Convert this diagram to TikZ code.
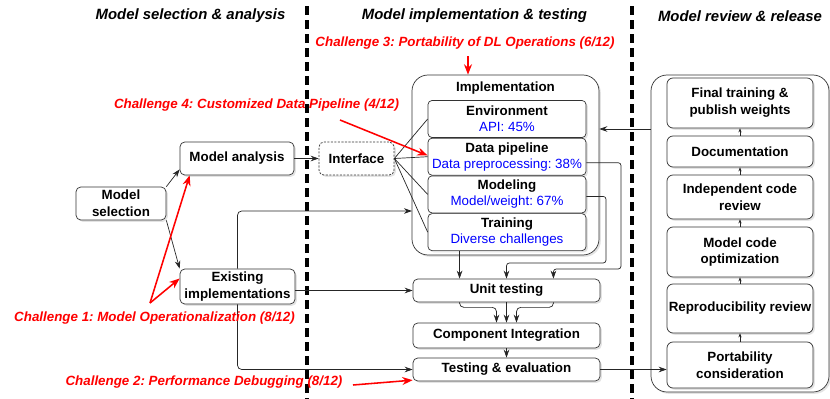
\documentclass[tikz,border=0pt]{standalone}
\usepackage{fontspec}
\setmainfont{Liberation Sans}
\usetikzlibrary{positioning,arrows.meta,calc,shadows}
\frenchspacing

\newcommand{\subinfo}[1]{\textcolor{blue}{\mdseries #1}}

\begin{document}
\begin{tikzpicture}[
  x=0.25mm, y=-0.25mm,
  font=\fontsize{9.5}{11.5}\selectfont,
  box/.style={draw=black!80, rounded corners=1.2mm, fill=white, align=center, inner sep=1pt, line width=0.5pt,
    font=\fontsize{9.5}{12}\selectfont\bfseries,
    drop shadow={shadow xshift=0.45mm, shadow yshift=-0.45mm, opacity=0.22}},
  ibox/.style={box, minimum width=39.5mm, minimum height=9.25mm, rounded corners=1mm, font=\fontsize{9.5}{11.5}\selectfont\bfseries},
  rbox/.style={box, minimum width=36.5mm, rounded corners=1.5mm},
  panel/.style={draw=black!80, rounded corners=4mm, fill=white, line width=0.5pt,
    drop shadow={shadow xshift=0.45mm, shadow yshift=-0.45mm, opacity=0.22}},
  stage/.style={font=\fontsize{10.6}{12}\selectfont\bfseries\itshape},
  chal/.style={font=\fontsize{9.5}{11}\selectfont\bfseries\itshape, text=red, inner sep=1pt},
  lane/.style={dash pattern=on 2.3mm off 1.2mm, line width=2.4pt},
  arr/.style={-{Stealth[length=2mm, width=1.4mm]}, black!85, line width=0.5pt},
  minarr/.style={-{Stealth[length=1mm, width=0.8mm]}, black!85, line width=0.4pt},
  link/.style={black!85, line width=0.5pt},
  redarr/.style={-{Stealth[length=2.6mm, width=2mm]}, red, line width=1.1pt},
]
\useasboundingbox (0,0) rectangle (830,399);

% ---------------- lane dividers ----------------
\draw[lane] (307,6) -- (307,399);
\draw[lane] (632,6) -- (632,399);

% ---------------- stage headings ----------------
\node[stage] (hsel) at (190.5,16) {Model selection \& analysis};
\node[stage] (himp) at (474.5,16) {Model implementation \& testing};
\node[stage] (hrev) at (740,16) {Model review \& release};

% ---------------- selection & analysis ----------------
\node[box, minimum width=22.5mm, minimum height=8.25mm] (sel) at (121,203.5) {Model\\selection};
\node[box, minimum width=28.5mm, minimum height=8.25mm] (ana) at (237,158.5) {Model analysis};
\node[box, minimum width=28.75mm, minimum height=8.75mm] (exist) at (237.5,286.5) {Existing\\implementations};
\node[box, dash pattern=on 1.5pt off 1pt, minimum width=18.75mm, minimum height=8.25mm] (iface) at (356.5,158.5) {Interface};

% ---------------- implementation ----------------
\node[panel, minimum width=46.75mm, minimum height=45mm] (impl) at (505.5,165) {};
\node[font=\fontsize{9.5}{11}\selectfont\bfseries, below=0.6mm of impl.north] (impltitle) {Implementation};
\node[ibox] (env) at (507,119) {Environment\\\subinfo{API: 45\%}};
\node[ibox, below=0pt of env] (dpipe) {Data pipeline\\\subinfo{Data preprocessing: 38\%}};
\node[ibox, below=0pt of dpipe] (model) {Modeling\\\subinfo{Model/weight: 67\%}};
\node[ibox, below=0pt of model] (train) {Training\\\subinfo{Diverse challenges}};

\node[box, minimum width=46.75mm, minimum height=5.75mm] (unit) at (506.5,290.5) {Unit testing};
\node[box, minimum width=46.75mm, minimum height=6.25mm] (comp) at (506.5,335.5) {Component Integration};
\node[box, minimum width=46.75mm, minimum height=5.75mm] (test) at (506.5,369.5) {Testing \& evaluation};

% ---------------- review & release ----------------
\node[panel, minimum width=44.5mm, minimum height=79.25mm] (review) at (740,233.5) {};
\node[rbox, minimum height=12.5mm] (fin) at (740,103) {Final training \&\\publish weights};
\node[rbox, minimum height=7.75mm] (doc) at (740,151.5) {Documentation};
\node[rbox, minimum height=11mm] (indep) at (740,197) {Independent code\\review};
\node[rbox, minimum height=12.5mm] (opt) at (740,252) {Model code\\optimization};
\node[rbox, minimum height=12.25mm] (repro) at (740,308.5) {Reproducibility review};
\node[rbox, minimum height=11.5mm] (port) at (740,365) {Portability\\consideration};

% ---------------- connectors ----------------
\coordinate (implin) at (412,211);
\coordinate (mbend) at (606,263);
\coordinate (dbend) at (621,269);
\coordinate (back) at (0,129);
\coordinate (ua) at ($(unit.north west)!0.25!(unit.north east)$);
\coordinate (uc) at ($(unit.north west)!0.75!(unit.north east)$);

\draw[arr] (sel.north east) -- ([yshift=1.5mm]ana.south west);
\draw[arr] (sel.south east) -- (exist.north west);
\draw[arr] (ana) -- (iface);
\foreach \t in {env,dpipe,model,train}
  \draw[link] (iface.east) -- (\t.west);
\draw[arr, rounded corners=3pt] (exist.north) |- (implin);
\draw[arr, rounded corners=3pt] (exist.south) |- (test.west);
\draw[arr] (exist.east |- unit.west) -- (unit.west);

\draw[arr] (train.south -| ua) -- (ua);
\draw[arr, rounded corners=2pt] ([yshift=-0.5mm]model.east) -| (mbend) -| (unit.north);
\draw[arr, rounded corners=2pt] ([yshift=-1.5mm]dpipe.east) -| (dbend) -| (uc);

\draw[arr, rounded corners=3pt] (unit.south -| ua) -- ++(0,5) -| ($(comp.north)+(-10,0)$);
\draw[arr] (unit) -- (comp);
\draw[arr, rounded corners=3pt] (unit.south -| uc) -- ++(0,5) -| ($(comp.north)+(10,0)$);
\draw[arr] (comp) -- (test);

\draw[arr] (review.west |- back) -- (impl.east |- back);
\draw[arr] (test.east) -- (port.west |- test.east);
\foreach \a/\b in {port/repro,repro/opt,opt/indep,indep/doc,doc/fin}
  \draw[minarr] (\a) -- (\b);

% ---------------- challenges ----------------
\node[chal] (c3) at (465,43) {Challenge 3: Portability of DL Operations (6/12)};
\node[chal] (c4) at (256.5,105) {Challenge 4: Customized Data Pipeline (4/12)};
\node[chal] (c1) at (154.5,318) {Challenge 1: Model Operationalization (8/12)};
\node[chal] (c2) at (204,382) {Challenge 2: Performance Debugging (8/12)};

\coordinate (c3tail) at (468,56);
\coordinate (c4tail) at (340,120);
\coordinate (c1tail) at (150,303);
\coordinate (c2tail) at (353,385);
\draw[redarr] (c3tail) -- (impl.north -| c3tail);
\draw[redarr] (c4tail) -- ([yshift=0.3mm]dpipe.west);
\draw[redarr] (c1tail) -- ([xshift=2.5mm]ana.south west);
\draw[redarr] (c1tail) -- ([yshift=2mm]exist.west);
\draw[redarr] (c2tail) -- ([yshift=0.3mm]test.south west);

\end{tikzpicture}
\end{document}
